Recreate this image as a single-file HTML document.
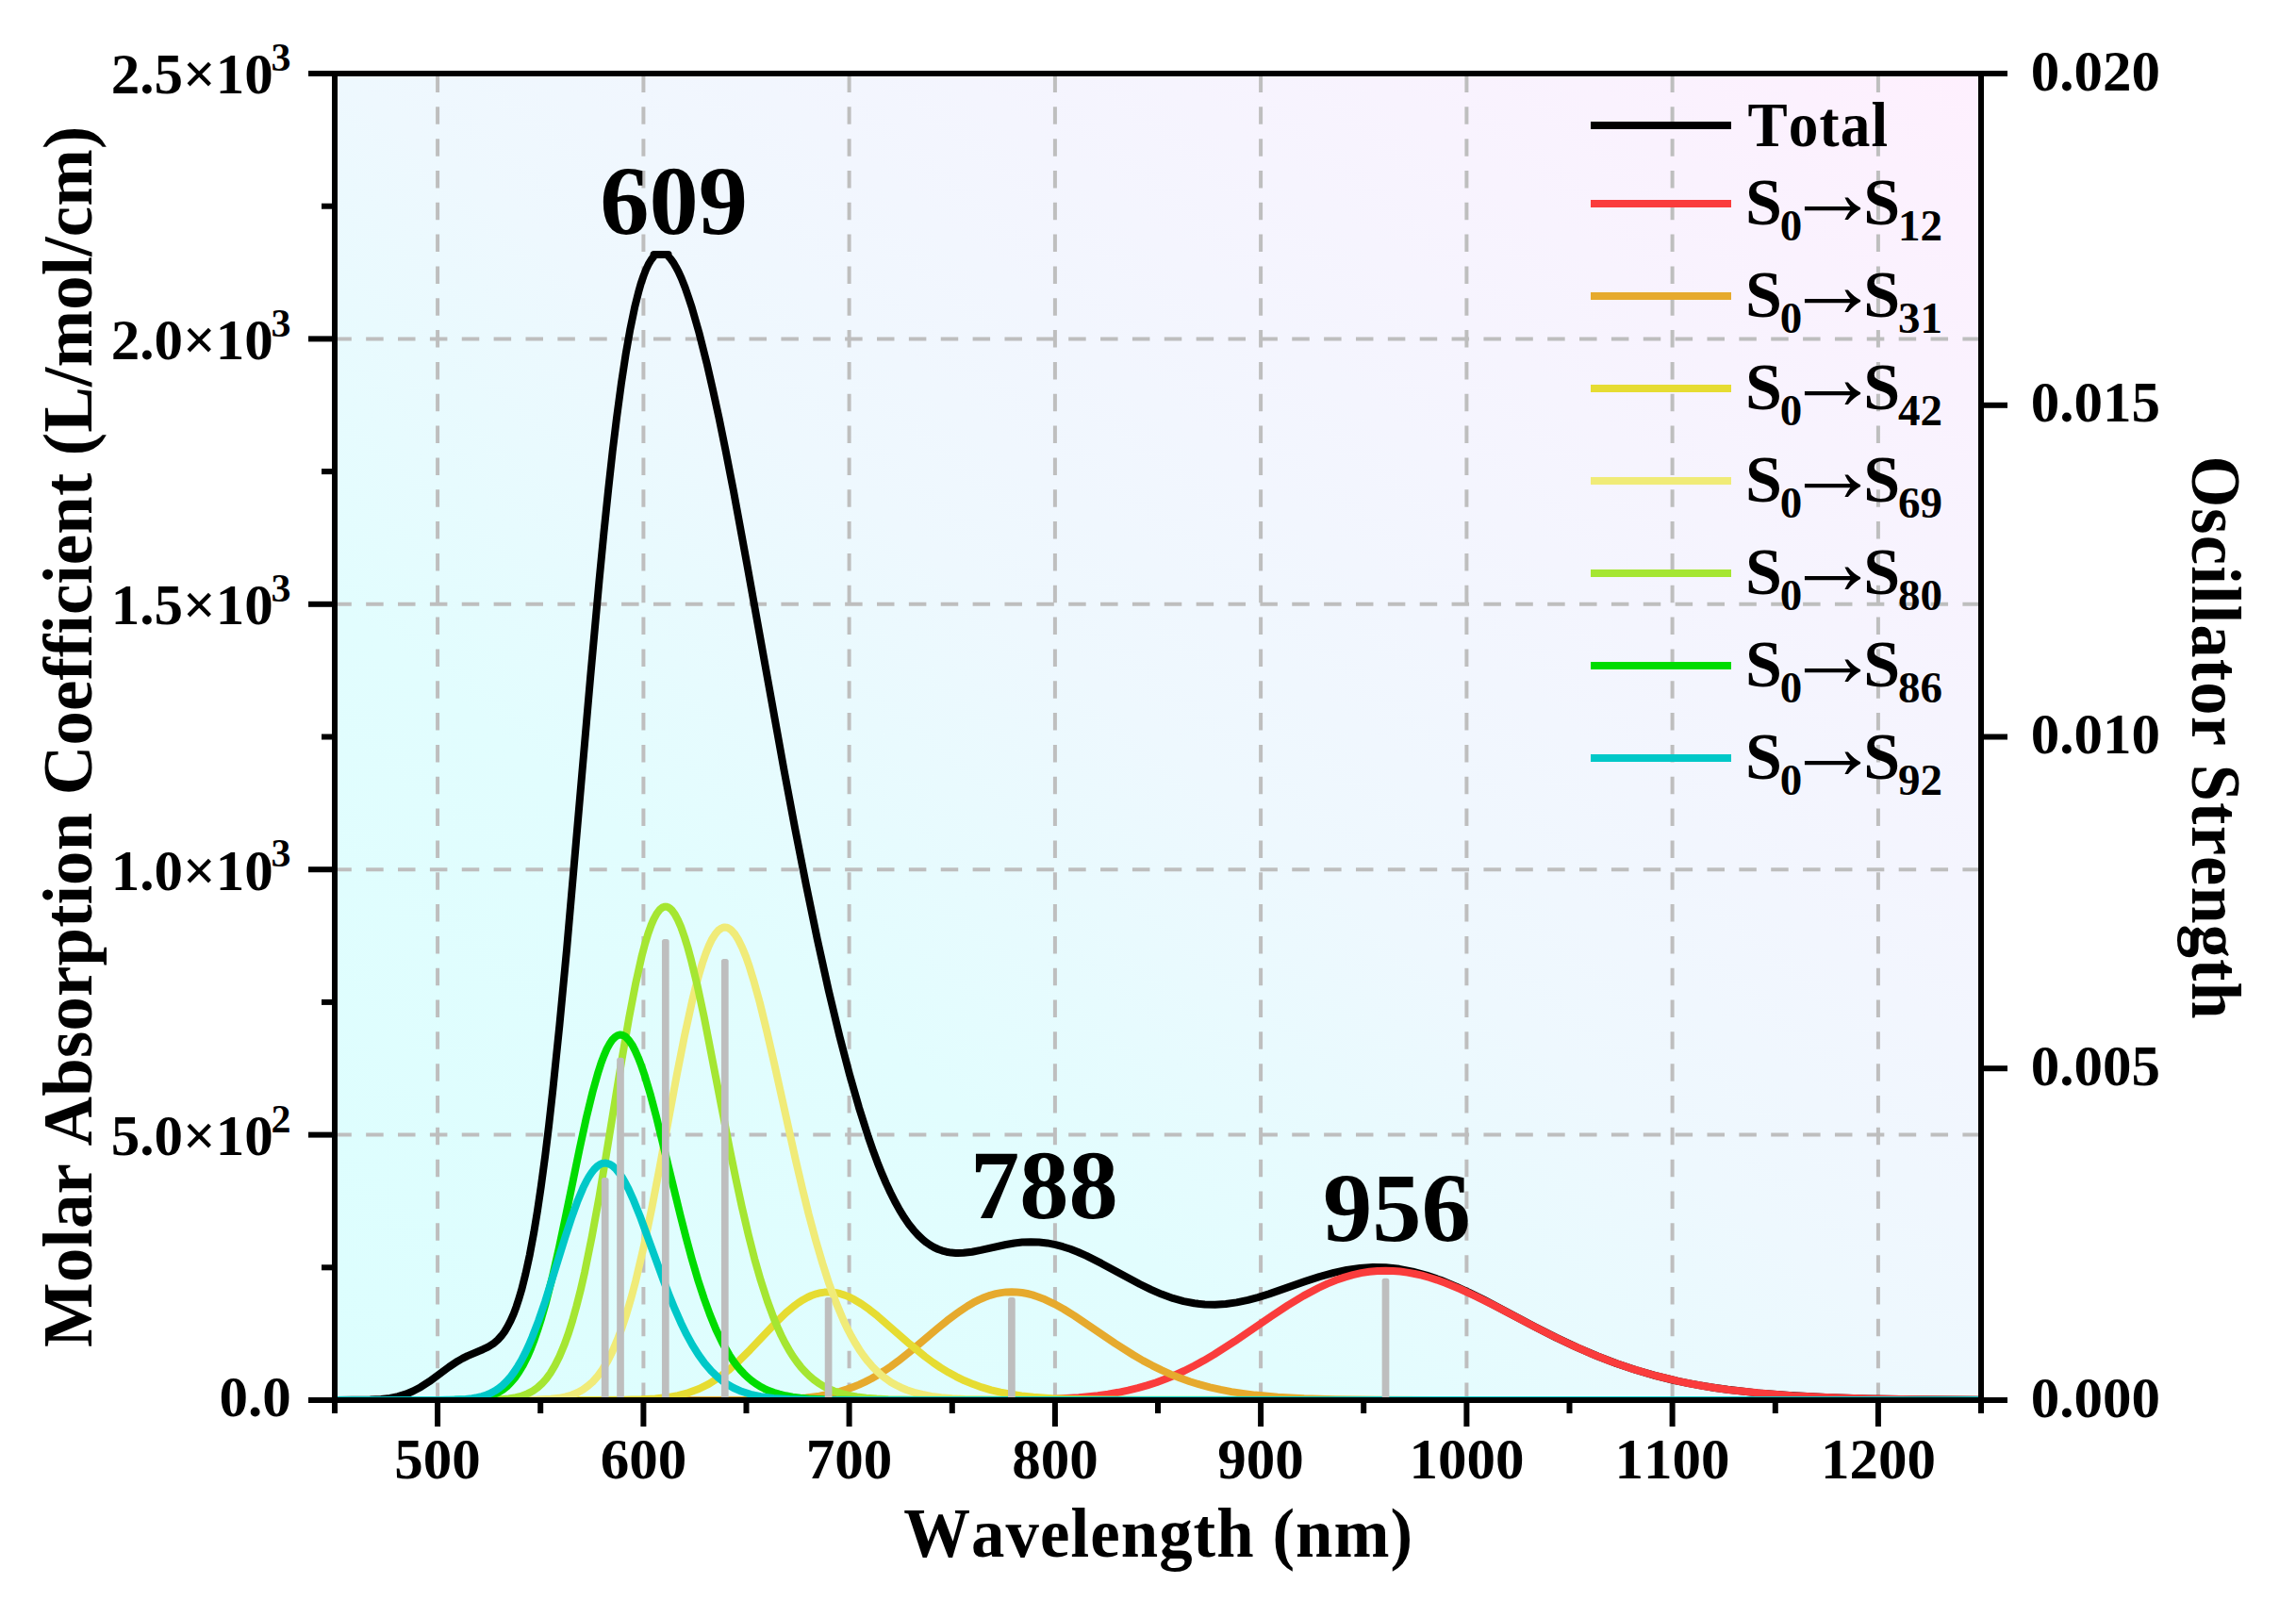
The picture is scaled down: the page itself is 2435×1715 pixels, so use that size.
<!DOCTYPE html><html><head><meta charset="utf-8"><title>Absorption spectrum</title><style>html,body{margin:0;padding:0;background:#fff}svg{display:block}text{font-family:"Liberation Serif","Times New Roman",serif;font-weight:bold;fill:#000;font-variant-ligatures:none;font-kerning:none}</style></head><body>
<svg width="2435" height="1715" viewBox="0 0 2435 1715">
<defs><linearGradient id="bg" x1="0" y1="1" x2="1" y2="0"><stop offset="0" stop-color="#DCFEFE"/><stop offset="0.3" stop-color="#E2FDFE"/><stop offset="0.5" stop-color="#EEF8FE"/><stop offset="1" stop-color="#FEF0FE"/></linearGradient>
<clipPath id="pc"><rect x="355.0" y="78.0" width="1746.0" height="1407.0"/></clipPath></defs>
<rect width="2435" height="1715" fill="#fff"/>
<rect x="355.0" y="78.0" width="1746.0" height="1407.0" fill="url(#bg)"/>
<g stroke="#BEBEBE" stroke-width="4" fill="none" clip-path="url(#pc)">
<path stroke-dasharray="18.5 15.33" d="M464.1 1485.0 V78.0"/>
<path stroke-dasharray="18.5 15.33" d="M682.4 1485.0 V78.0"/>
<path stroke-dasharray="18.5 15.33" d="M900.6 1485.0 V78.0"/>
<path stroke-dasharray="18.5 15.33" d="M1118.9 1485.0 V78.0"/>
<path stroke-dasharray="18.5 15.33" d="M1337.1 1485.0 V78.0"/>
<path stroke-dasharray="18.5 15.33" d="M1555.4 1485.0 V78.0"/>
<path stroke-dasharray="18.5 15.33" d="M1773.6 1485.0 V78.0"/>
<path stroke-dasharray="18.5 15.33" d="M1991.9 1485.0 V78.0"/>
<path stroke-dasharray="18.5 15.365" d="M354.3 1203.6 H2101.0"/>
<path stroke-dasharray="18.5 15.365" d="M354.3 922.2 H2101.0"/>
<path stroke-dasharray="18.5 15.365" d="M354.3 640.8 H2101.0"/>
<path stroke-dasharray="18.5 15.365" d="M354.3 359.4 H2101.0"/>
</g>
<g clip-path="url(#pc)" fill="none" stroke-width="8" stroke-linejoin="round">
<path stroke="#000" d="M355.0 1485.0 L392.6 1484.6 L404.1 1484.0 L413.4 1482.9 L422.1 1481.2 L430.3 1478.7 L437.9 1475.5 L446.1 1471.2 L455.4 1465.2 L476.1 1449.9 L485.4 1443.7 L490.3 1440.9 L495.8 1438.1 L512.1 1431.2 L517.6 1428.6 L523.1 1425.2 L528.0 1421.0 L531.8 1416.8 L535.1 1412.4 L538.3 1407.0 L541.6 1400.6 L544.9 1393.1 L547.6 1385.8 L550.3 1377.5 L553.1 1368.2 L557.4 1351.0 L561.8 1330.8 L566.2 1307.3 L570.0 1284.1 L573.8 1258.4 L578.2 1225.8 L582.0 1194.6 L586.3 1156.1 L593.4 1087.4 L601.1 1006.3 L626.2 717.6 L635.5 615.6 L640.4 565.2 L645.3 518.0 L649.6 479.1 L654.0 443.2 L658.9 406.8 L663.8 374.7 L668.2 349.9 L673.1 326.1 L677.5 308.6 L679.6 301.1 L682.4 292.9 L685.1 285.9 L687.8 280.1 L690.6 275.5 L693.3 272.0 L693.5 269.9 L708.6 269.9 L708.6 271.6 L711.3 274.6 L714.0 278.3 L716.7 282.9 L719.5 288.1 L722.8 295.4 L726.6 305.0 L729.8 314.2 L733.7 326.0 L741.3 352.5 L749.5 384.9 L756.0 413.4 L762.6 443.7 L769.7 478.5 L777.9 520.6 L792.0 597.2 L831.3 815.6 L843.3 879.6 L854.8 938.1 L866.8 996.2 L878.8 1050.6 L890.3 1098.6 L901.2 1140.4 L911.0 1174.7 L920.8 1205.6 L925.7 1219.7 L930.6 1232.9 L935.5 1245.2 L939.9 1255.4 L944.3 1264.8 L949.2 1274.5 L954.1 1283.4 L959.0 1291.3 L963.9 1298.4 L968.8 1304.6 L973.7 1310.0 L978.6 1314.7 L982.5 1317.8 L986.8 1320.8 L990.7 1323.0 L995.0 1325.0 L999.4 1326.6 L1003.7 1327.7 L1008.7 1328.6 L1013.6 1329.0 L1021.8 1328.8 L1031.0 1327.7 L1040.3 1325.9 L1067.0 1320.0 L1075.8 1318.5 L1084.0 1317.6 L1093.2 1317.2 L1102.0 1317.5 L1110.7 1318.4 L1119.4 1320.1 L1127.1 1322.2 L1135.2 1324.8 L1143.4 1328.0 L1152.2 1331.9 L1168.0 1339.9 L1208.9 1362.0 L1220.9 1367.9 L1231.8 1372.6 L1243.8 1376.9 L1255.3 1380.1 L1266.7 1382.3 L1277.7 1383.5 L1288.6 1383.7 L1300.0 1383.0 L1311.5 1381.4 L1323.5 1378.9 L1333.9 1376.1 L1345.9 1372.4 L1384.6 1358.9 L1399.3 1354.1 L1414.6 1349.8 L1428.2 1346.9 L1442.4 1344.9 L1456.1 1344.0 L1469.7 1344.3 L1476.8 1344.9 L1483.9 1345.8 L1498.1 1348.6 L1512.8 1352.6 L1528.1 1357.8 L1544.5 1364.6 L1558.1 1370.8 L1573.9 1378.7 L1627.9 1407.2 L1650.3 1418.6 L1673.2 1429.4 L1694.5 1438.5 L1714.7 1446.3 L1734.9 1453.0 L1755.1 1458.9 L1775.8 1464.0 L1789.4 1466.9 L1803.1 1469.4 L1817.3 1471.7 L1832.0 1473.8 L1863.7 1477.4 L1898.0 1480.1 L1935.7 1482.0 L1979.9 1483.4 L2032.8 1484.2 L2101.0 1484.7"/>
<path stroke="#FA3C3C" d="M355.0 1485.0 L1058.3 1484.9 L1093.8 1484.4 L1121.1 1483.6 L1144.0 1482.2 L1164.2 1480.2 L1175.1 1478.7 L1186.0 1476.8 L1196.4 1474.7 L1206.7 1472.2 L1216.5 1469.4 L1226.4 1466.2 L1236.2 1462.5 L1245.5 1458.7 L1255.8 1454.0 L1266.2 1448.7 L1276.6 1443.1 L1287.5 1436.6 L1309.3 1422.7 L1349.1 1395.5 L1365.5 1384.7 L1382.4 1374.4 L1398.2 1366.0 L1407.5 1361.6 L1416.8 1357.8 L1426.1 1354.6 L1434.8 1352.1 L1443.5 1350.1 L1452.3 1348.8 L1461.0 1347.9 L1469.7 1347.7 L1477.4 1347.9 L1485.0 1348.5 L1492.6 1349.6 L1500.3 1351.0 L1507.9 1352.7 L1516.1 1355.0 L1524.3 1357.6 L1533.0 1360.7 L1548.3 1367.0 L1565.7 1375.1 L1584.3 1384.4 L1625.8 1406.2 L1645.4 1416.2 L1666.7 1426.5 L1686.3 1435.2 L1709.2 1444.3 L1732.2 1452.2 L1755.6 1459.0 L1779.6 1464.8 L1792.7 1467.5 L1806.4 1470.0 L1820.5 1472.2 L1835.3 1474.3 L1866.4 1477.6 L1900.2 1480.2 L1937.9 1482.1 L1981.5 1483.4 L2033.9 1484.2 L2101.0 1484.7"/>
<path stroke="#E6AA2D" d="M355.0 1485.0 L795.9 1484.9 L820.4 1484.5 L839.0 1483.7 L854.8 1482.4 L869.0 1480.6 L883.7 1477.7 L890.8 1475.8 L897.9 1473.6 L904.4 1471.3 L911.0 1468.6 L917.5 1465.6 L924.1 1462.2 L930.6 1458.5 L937.7 1454.0 L944.8 1449.2 L952.5 1443.6 L967.2 1431.9 L993.9 1409.3 L1004.3 1400.8 L1015.8 1392.2 L1026.1 1385.2 L1032.1 1381.7 L1038.1 1378.7 L1044.1 1376.0 L1050.1 1373.8 L1056.1 1372.2 L1061.6 1371.1 L1067.0 1370.4 L1073.0 1370.2 L1078.5 1370.4 L1084.0 1371.0 L1089.4 1372.0 L1094.9 1373.4 L1100.3 1375.2 L1106.3 1377.4 L1118.3 1383.1 L1128.2 1388.5 L1139.6 1395.6 L1182.7 1424.9 L1201.8 1437.0 L1212.2 1443.1 L1222.0 1448.3 L1231.8 1453.2 L1241.6 1457.6 L1251.5 1461.5 L1261.8 1465.2 L1272.2 1468.4 L1283.1 1471.3 L1294.6 1473.9 L1306.0 1476.1 L1318.0 1477.9 L1331.1 1479.6 L1355.1 1481.7 L1383.0 1483.2 L1416.2 1484.2 L1459.3 1484.7 L1567.4 1485.0 L2101.0 1485.0"/>
<path stroke="#E6DC32" d="M355.0 1485.0 L619.1 1485.0 L661.1 1484.8 L680.2 1484.3 L694.9 1483.5 L707.5 1482.1 L718.9 1480.1 L730.4 1477.1 L741.3 1473.0 L751.7 1467.8 L761.5 1461.7 L772.4 1453.4 L783.9 1443.2 L795.3 1431.8 L824.8 1400.8 L833.5 1392.4 L841.7 1385.5 L846.6 1381.9 L851.5 1378.7 L856.4 1376.0 L860.8 1374.0 L865.7 1372.3 L870.1 1371.2 L874.4 1370.6 L878.8 1370.4 L882.6 1370.6 L887.0 1371.2 L891.3 1372.2 L895.7 1373.6 L900.1 1375.4 L904.4 1377.5 L913.7 1383.0 L921.9 1388.8 L930.6 1395.7 L965.0 1425.7 L980.8 1438.6 L989.6 1445.1 L997.7 1450.6 L1005.9 1455.6 L1014.1 1460.1 L1022.8 1464.3 L1032.1 1468.1 L1041.4 1471.4 L1051.2 1474.3 L1061.0 1476.6 L1072.0 1478.7 L1083.4 1480.4 L1096.0 1481.7 L1115.6 1483.2 L1138.5 1484.1 L1166.9 1484.6 L1206.2 1484.9 L2101.0 1485.0"/>
<path stroke="#F0EB78" d="M355.0 1485.0 L548.2 1484.9 L569.4 1484.6 L584.2 1483.8 L592.9 1482.8 L600.0 1481.4 L606.5 1479.5 L612.5 1477.0 L618.0 1474.0 L623.4 1470.1 L628.4 1465.7 L633.3 1460.3 L638.7 1452.9 L644.2 1443.9 L649.6 1433.1 L654.5 1421.7 L659.5 1408.6 L664.4 1393.7 L669.3 1376.9 L674.2 1358.4 L682.4 1323.7 L691.1 1282.1 L699.3 1239.8 L717.8 1140.0 L726.0 1098.5 L734.2 1061.2 L738.0 1045.7 L741.3 1033.6 L745.1 1021.0 L748.4 1011.5 L751.7 1003.3 L754.9 996.5 L758.8 990.3 L762.0 986.6 L765.3 984.4 L766.9 983.8 L768.6 983.5 L770.2 983.7 L771.9 984.2 L773.5 985.0 L775.7 986.7 L779.5 991.0 L783.3 997.2 L787.1 1005.0 L791.0 1014.4 L794.8 1025.3 L799.1 1039.3 L805.7 1063.0 L813.3 1094.0 L821.0 1127.4 L843.9 1230.6 L851.0 1260.8 L857.5 1287.2 L865.2 1315.7 L872.3 1339.9 L879.3 1361.7 L887.0 1382.4 L894.6 1400.5 L898.4 1408.6 L902.8 1417.0 L907.2 1424.7 L911.5 1431.7 L915.9 1438.0 L920.3 1443.7 L924.6 1448.7 L929.5 1453.8 L934.5 1458.3 L939.4 1462.1 L944.8 1465.9 L950.3 1469.0 L955.7 1471.7 L961.7 1474.2 L969.4 1476.8 L978.1 1479.0 L987.9 1480.9 L998.3 1482.2 L1009.8 1483.2 L1023.4 1484.0 L1059.9 1484.8 L1144.0 1485.0 L2101.0 1485.0"/>
<path stroke="#A5E632" d="M355.0 1485.0 L507.2 1484.9 L526.3 1484.5 L539.4 1483.4 L547.1 1482.2 L553.6 1480.5 L559.6 1478.1 L565.1 1475.2 L570.0 1471.8 L574.9 1467.3 L579.3 1462.4 L583.6 1456.5 L588.5 1448.3 L593.4 1438.5 L598.3 1426.8 L602.7 1414.7 L607.1 1400.8 L611.4 1385.3 L615.8 1367.9 L620.2 1348.8 L627.8 1311.3 L635.5 1269.4 L642.5 1227.4 L659.5 1123.7 L667.1 1079.6 L674.2 1042.8 L680.7 1013.7 L684.0 1001.3 L687.3 990.4 L690.6 981.2 L693.3 974.9 L696.6 968.8 L699.8 964.6 L702.6 962.5 L704.2 961.8 L705.8 961.6 L707.5 961.8 L709.1 962.5 L710.7 963.6 L712.4 965.2 L715.7 969.6 L718.9 975.6 L722.2 983.2 L726.0 994.0 L729.3 1004.6 L733.1 1018.6 L739.7 1045.8 L746.8 1079.0 L774.0 1219.2 L780.6 1251.3 L786.6 1279.1 L793.7 1309.5 L800.2 1335.1 L806.8 1358.1 L813.9 1380.0 L821.0 1399.1 L824.8 1408.1 L828.6 1416.5 L832.4 1424.0 L836.8 1431.8 L840.6 1438.0 L845.0 1444.3 L849.3 1449.8 L853.7 1454.7 L858.1 1459.0 L863.0 1463.2 L867.9 1466.8 L873.3 1470.1 L878.8 1472.9 L884.8 1475.5 L891.9 1477.8 L900.1 1479.9 L908.8 1481.4 L918.6 1482.7 L929.5 1483.6 L942.1 1484.2 L975.9 1484.8 L2101.0 1485.0"/>
<path stroke="#00DC00" d="M355.0 1485.0 L476.1 1484.9 L493.6 1484.5 L505.6 1483.5 L512.1 1482.5 L518.1 1481.0 L523.6 1479.1 L528.5 1476.8 L533.4 1473.8 L537.8 1470.3 L542.1 1466.0 L546.0 1461.5 L550.3 1455.3 L554.7 1448.0 L559.1 1439.3 L562.9 1430.6 L566.7 1420.8 L570.5 1409.8 L574.3 1397.7 L578.7 1382.4 L585.8 1354.6 L592.9 1323.5 L599.4 1292.7 L614.7 1218.2 L621.8 1185.6 L628.4 1158.5 L634.4 1137.2 L637.6 1127.2 L640.4 1119.9 L643.6 1112.4 L646.4 1107.3 L649.6 1102.6 L652.4 1099.8 L655.1 1098.1 L657.8 1097.5 L660.5 1098.0 L662.2 1098.8 L663.8 1099.9 L667.1 1103.4 L670.4 1108.2 L673.6 1114.4 L676.9 1121.8 L680.2 1130.4 L683.5 1140.0 L689.5 1159.9 L696.0 1184.3 L721.7 1289.6 L727.7 1313.1 L733.7 1335.2 L740.2 1357.4 L746.8 1377.5 L752.8 1394.0 L759.3 1409.9 L766.4 1424.7 L773.5 1437.1 L777.3 1442.8 L781.1 1448.0 L785.0 1452.7 L788.8 1456.8 L792.6 1460.5 L797.0 1464.2 L801.3 1467.4 L805.7 1470.2 L810.6 1472.8 L815.5 1475.1 L821.0 1477.1 L826.4 1478.7 L833.0 1480.3 L840.6 1481.7 L848.8 1482.7 L857.5 1483.5 L879.3 1484.5 L912.1 1484.9 L2101.0 1485.0"/>
<path stroke="#00C8C8" d="M355.0 1485.0 L465.8 1484.9 L482.1 1484.6 L494.1 1483.9 L500.7 1483.2 L506.1 1482.2 L511.0 1481.1 L516.0 1479.5 L520.3 1477.6 L524.7 1475.3 L529.1 1472.4 L532.9 1469.3 L537.2 1465.1 L541.1 1460.8 L545.4 1455.0 L549.2 1449.1 L553.1 1442.5 L556.9 1435.1 L560.7 1427.0 L564.5 1418.0 L571.1 1400.9 L578.2 1380.3 L599.4 1312.1 L606.0 1292.0 L612.5 1273.9 L618.5 1259.6 L621.8 1252.9 L624.5 1248.1 L627.3 1243.9 L630.0 1240.4 L633.3 1237.1 L636.0 1235.2 L638.7 1234.0 L641.5 1233.6 L644.2 1233.9 L647.5 1235.2 L650.2 1237.1 L653.5 1240.2 L656.7 1244.2 L660.0 1249.1 L663.3 1254.8 L666.6 1261.2 L672.0 1273.2 L678.6 1289.4 L703.7 1358.1 L709.7 1373.7 L715.7 1388.4 L722.2 1403.2 L728.2 1415.4 L734.2 1426.4 L740.8 1436.9 L747.3 1445.9 L754.4 1454.1 L762.0 1461.4 L769.7 1467.2 L777.9 1472.0 L786.6 1475.8 L795.9 1478.8 L806.8 1481.1 L820.4 1482.9 L837.3 1484.1 L858.6 1484.7 L890.8 1484.9 L2101.0 1485.0"/>
</g>
<g fill="#BEBEBE">
<rect x="1465.65" y="1355.7" width="7.7" height="129.3" rx="2.6" ry="2.6"/>
<rect x="1069.05" y="1376.1" width="7.7" height="108.9" rx="2.6" ry="2.6"/>
<rect x="874.75" y="1376.0" width="7.7" height="109.0" rx="2.6" ry="2.6"/>
<rect x="764.95" y="1016.9" width="7.7" height="468.1" rx="2.6" ry="2.6"/>
<rect x="701.95" y="996.1" width="7.7" height="488.9" rx="2.6" ry="2.6"/>
<rect x="654.15" y="1121.8" width="7.7" height="363.2" rx="2.6" ry="2.6"/>
<rect x="637.85" y="1249.0" width="7.7" height="236.0" rx="2.6" ry="2.6"/>
</g>
<g fill="#000">
<rect x="327" y="75" width="1802" height="6"/>
<rect x="327" y="1482" width="1777" height="6"/>
<rect x="352" y="75" width="6" height="1424"/>
<rect x="2098" y="75" width="6" height="1424"/>
<rect x="461.1" y="1485" width="6" height="28"/>
<rect x="679.4" y="1485" width="6" height="28"/>
<rect x="897.6" y="1485" width="6" height="28"/>
<rect x="1115.9" y="1485" width="6" height="28"/>
<rect x="1334.1" y="1485" width="6" height="28"/>
<rect x="1552.4" y="1485" width="6" height="28"/>
<rect x="1770.6" y="1485" width="6" height="28"/>
<rect x="1988.9" y="1485" width="6" height="28"/>
<rect x="570.2" y="1485" width="6" height="14"/>
<rect x="788.5" y="1485" width="6" height="14"/>
<rect x="1006.8" y="1485" width="6" height="14"/>
<rect x="1225.0" y="1485" width="6" height="14"/>
<rect x="1443.2" y="1485" width="6" height="14"/>
<rect x="1661.5" y="1485" width="6" height="14"/>
<rect x="1879.8" y="1485" width="6" height="14"/>
<rect x="327" y="1482.0" width="28" height="6"/>
<rect x="327" y="1200.6" width="28" height="6"/>
<rect x="327" y="919.2" width="28" height="6"/>
<rect x="327" y="637.8" width="28" height="6"/>
<rect x="327" y="356.4" width="28" height="6"/>
<rect x="327" y="75.0" width="28" height="6"/>
<rect x="341" y="1341.3" width="14" height="6"/>
<rect x="341" y="1059.9" width="14" height="6"/>
<rect x="341" y="778.5" width="14" height="6"/>
<rect x="341" y="497.1" width="14" height="6"/>
<rect x="341" y="215.7" width="14" height="6"/>
<rect x="2101" y="1482.0" width="28" height="6"/>
<rect x="2101" y="1130.2" width="28" height="6"/>
<rect x="2101" y="778.5" width="28" height="6"/>
<rect x="2101" y="426.8" width="28" height="6"/>
<rect x="2101" y="75.0" width="28" height="6"/>
</g>
<g font-size="61">
<text x="464.1" y="1568.4" text-anchor="middle">500</text>
<text x="682.4" y="1568.4" text-anchor="middle">600</text>
<text x="900.6" y="1568.4" text-anchor="middle">700</text>
<text x="1118.9" y="1568.4" text-anchor="middle">800</text>
<text x="1337.1" y="1568.4" text-anchor="middle">900</text>
<text x="1555.4" y="1568.4" text-anchor="middle">1000</text>
<text x="1773.6" y="1568.4" text-anchor="middle">1100</text>
<text x="1991.9" y="1568.4" text-anchor="middle">1200</text>
<text x="232.5" y="1502.4">0.0</text>
<text x="117.7" y="1225.0">5.0×10<tspan x="287.6" font-size="42" dy="-24.2">2</tspan></text>
<text x="117.7" y="943.6">1.0×10<tspan x="287.6" font-size="42" dy="-24.2">3</tspan></text>
<text x="117.7" y="662.2">1.5×10<tspan x="287.6" font-size="42" dy="-24.2">3</tspan></text>
<text x="117.7" y="380.8">2.0×10<tspan x="287.6" font-size="42" dy="-24.2">3</tspan></text>
<text x="117.7" y="99.4">2.5×10<tspan x="287.6" font-size="42" dy="-24.2">3</tspan></text>
<text x="2153.7" y="1502.5">0.000</text>
<text x="2153.7" y="1150.8">0.005</text>
<text x="2153.7" y="799.0">0.010</text>
<text x="2153.7" y="447.2">0.015</text>
<text x="2153.7" y="95.5">0.020</text>
</g>
<text transform="translate(958.2 1651.3) scale(0.9573 1)" font-size="74" style="letter-spacing:1.097px">Wavelength (nm)</text>
<text transform="translate(97 1428.9) rotate(-90) scale(0.997 1)" font-size="73" style="letter-spacing:0.207px">Molar Absorption Coefficient (L/mol/cm)</text>
<text transform="translate(2324.7 483.5) rotate(90) scale(0.9363 1)" font-size="75" style="letter-spacing:1.299px">Oscillator Strength</text>
<g font-size="104.5">
<text x="636.3" y="247.9">609</text>
<text x="1029" y="1291.7">788</text>
<text x="1403.1" y="1315.8">956</text>
</g>
<rect x="1687" y="129" width="149" height="8" fill="#000"/>
<text transform="translate(1853.5 154.9) scale(0.9447 1)" font-size="67" style="letter-spacing:1.19px">Total</text>
<rect x="1687" y="212" width="149" height="8" fill="#FA3C3C"/>
<text y="238.4" font-size="70"><tspan x="1851.1">S</tspan><tspan x="1887.8" dy="16.9" font-size="47">0</tspan><tspan x="1893.7" dy="-17.5" font-size="100">→</tspan><tspan x="1976.3" dy="0.6">S</tspan><tspan x="2013.0" dy="16.9" font-size="47">12</tspan></text>
<rect x="1687" y="310" width="149" height="8" fill="#E6AA2D"/>
<text y="336.4" font-size="70"><tspan x="1851.1">S</tspan><tspan x="1887.8" dy="16.9" font-size="47">0</tspan><tspan x="1893.7" dy="-17.5" font-size="100">→</tspan><tspan x="1976.3" dy="0.6">S</tspan><tspan x="2013.0" dy="16.9" font-size="47">31</tspan></text>
<rect x="1687" y="408" width="149" height="8" fill="#E6DC32"/>
<text y="434.4" font-size="70"><tspan x="1851.1">S</tspan><tspan x="1887.8" dy="16.9" font-size="47">0</tspan><tspan x="1893.7" dy="-17.5" font-size="100">→</tspan><tspan x="1976.3" dy="0.6">S</tspan><tspan x="2013.0" dy="16.9" font-size="47">42</tspan></text>
<rect x="1687" y="506" width="149" height="8" fill="#F0EB78"/>
<text y="532.4" font-size="70"><tspan x="1851.1">S</tspan><tspan x="1887.8" dy="16.9" font-size="47">0</tspan><tspan x="1893.7" dy="-17.5" font-size="100">→</tspan><tspan x="1976.3" dy="0.6">S</tspan><tspan x="2013.0" dy="16.9" font-size="47">69</tspan></text>
<rect x="1687" y="604" width="149" height="8" fill="#A5E632"/>
<text y="630.4" font-size="70"><tspan x="1851.1">S</tspan><tspan x="1887.8" dy="16.9" font-size="47">0</tspan><tspan x="1893.7" dy="-17.5" font-size="100">→</tspan><tspan x="1976.3" dy="0.6">S</tspan><tspan x="2013.0" dy="16.9" font-size="47">80</tspan></text>
<rect x="1687" y="702" width="149" height="8" fill="#00DC00"/>
<text y="728.4" font-size="70"><tspan x="1851.1">S</tspan><tspan x="1887.8" dy="16.9" font-size="47">0</tspan><tspan x="1893.7" dy="-17.5" font-size="100">→</tspan><tspan x="1976.3" dy="0.6">S</tspan><tspan x="2013.0" dy="16.9" font-size="47">86</tspan></text>
<rect x="1687" y="800" width="149" height="8" fill="#00C8C8"/>
<text y="826.4" font-size="70"><tspan x="1851.1">S</tspan><tspan x="1887.8" dy="16.9" font-size="47">0</tspan><tspan x="1893.7" dy="-17.5" font-size="100">→</tspan><tspan x="1976.3" dy="0.6">S</tspan><tspan x="2013.0" dy="16.9" font-size="47">92</tspan></text>
</svg></body></html>
